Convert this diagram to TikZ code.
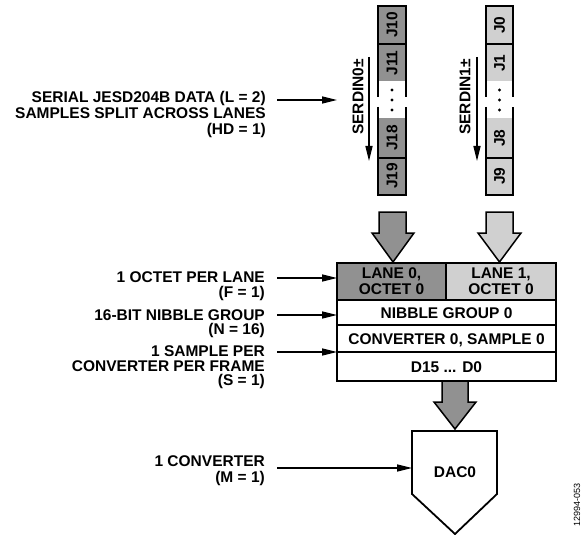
\documentclass[tikz,border=0pt]{standalone}
\usepackage{fontspec}
\setmainfont{Liberation Sans}
\usetikzlibrary{arrows.meta}
\definecolor{dk}{RGB}{145,145,145}
\definecolor{lt}{RGB}{208,208,208}
\begin{document}
\begin{tikzpicture}[x=1pt,y=-1pt,
  lbl/.style={font=\fontsize{15.5}{14.5}\selectfont\bfseries, align=right, inner sep=0, anchor=base east},
  ttl/.style={font=\fontsize{15.5}{16}\selectfont\bfseries, inner sep=0},
  arr/.style={line width=1.4pt, -{Triangle[length=15pt,width=7pt]}},
  box/.style={line width=1.8pt},
  big/.style={line width=1.5pt, line join=miter}]
\useasboundingbox (0,0) rectangle (582,535);

% ---- lane columns
\foreach \L/\R/\c in {378/406/dk, 486/513/lt}{
  \fill[\c] (\L,6) rectangle (\R,81);
  \fill[\c] (\L,118) rectangle (\R,195);
  \draw[box] (\L,97) -- (\L,6) -- (\R,6) -- (\R,97);
  \draw[box] (\L,107) -- (\L,195) -- (\R,195) -- (\R,107);
  \draw[box] (\L,44) -- (\R,44);
  \draw[box] (\L,158) -- (\R,158);
  \fill ({(\L+\R)/2},90) circle (1.7);
  \fill ({(\L+\R)/2},100) circle (1.7);
  \fill ({(\L+\R)/2},110) circle (1.7);
}
\node[ttl, rotate=90] (j10) at (392,25) {J10};
\node[ttl, rotate=90] (j11) at (392,63) {J11};
\node[ttl, rotate=90] (j18) at (392,138) {J18};
\node[ttl, rotate=90] (j19) at (392,176) {J19};
\node[ttl, rotate=90] (j0) at (499.5,25) {J0};
\node[ttl, rotate=90] (j1) at (499.5,63) {J1};
\node[ttl, rotate=90] (j8) at (499.5,138) {J8};
\node[ttl, rotate=90] (j9) at (499.5,176) {J9};

\node[ttl, rotate=90] (s0) at (358,97) {SERDIN0±};
\node[ttl, rotate=90] (s1) at (465,97) {SERDIN1±};
\coordinate (s0a) at (369,57); \coordinate (s0b) at (369,161);
\coordinate (s1a) at (477,57); \coordinate (s1b) at (477,161);
\draw[arr] (s0a) -- (s0b);
\draw[arr] (s1a) -- (s1b);

% ---- big arrows
\draw[big, fill=dk] (379,212) -- (406,212) -- (406,233) -- (414,233) -- (393,262) -- (372,233) -- (379,233) -- cycle;
\draw[big, fill=lt] (486,212) -- (513,212) -- (513,233) -- (521,233) -- (499.5,262) -- (478,233) -- (486,233) -- cycle;
\draw[big, fill=dk] (442,381) -- (468,381) -- (468,402) -- (476,402) -- (455,429) -- (434,402) -- (442,402) -- cycle;

% ---- table
\fill[dk] (337,263) rectangle (446,300);
\fill[lt] (446,263) rectangle (556,300);
\draw[box] (337,263) rectangle (556,381);
\draw[box] (337,300) -- (556,300);
\draw[box] (337,325) -- (556,325);
\draw[box] (337,352) -- (556,352);
\draw[box] (446,263) -- (446,300);
\node[ttl, align=center, anchor=base] (l0) at (391.5,294.5) {LANE 0,\\OCTET 0};
\node[ttl, align=center, anchor=base] (l1) at (501,294.5) {LANE 1,\\OCTET 0};
\node[ttl, anchor=base] (ng) at (446.5,318.5) {NIBBLE GROUP 0};
\node[ttl, anchor=base] (cs) at (446.5,344.5) {CONVERTER 0, SAMPLE 0};
\node[ttl, anchor=base] (dd) at (446.5,372) {D15 ... D0};
\coordinate (t1) at (337,278);
\coordinate (t2) at (337,315);
\coordinate (t3) at (337,352);

% ---- DAC
\draw[box, fill=white, line join=miter] (412,431) -- (497,431) -- (497,494) -- (455,534) -- (412,494) -- cycle;
\node[ttl, anchor=base] (dac) at (455,477.5) {DAC0};
\coordinate (dacin) at (412,468);

% ---- left labels (base = last line)
\node[lbl, font=\fontsize{15.5}{16}\selectfont\bfseries] (lab1) at (266,134.5) {SERIAL JESD204B DATA (L = 2)\\SAMPLES SPLIT ACROSS LANES\\(HD = 1)};
\node[lbl, font=\fontsize{15.5}{15}\selectfont\bfseries] (lab2) at (265,297.5) {1 OCTET PER LANE\\(F = 1)};
\node[lbl] (lab3) at (265,334.5) {16-BIT NIBBLE GROUP\\(N = 16)};
\node[lbl] (lab4) at (265,385.5) {1 SAMPLE PER\\CONVERTER PER FRAME\\(S = 1)};
\node[lbl, font=\fontsize{15.5}{16}\selectfont\bfseries] (lab5) at (265,482.5) {1 CONVERTER\\(M = 1)};

\coordinate (a1) at (277,100); \coordinate (a1e) at (337,100);
\coordinate (a2) at (277,278);
\coordinate (a3) at (277,315);
\coordinate (a4) at (277,352);
\coordinate (a5) at (277,468);
\draw[arr] (a1) -- (a1e);
\draw[arr] (a2) -- (t1);
\draw[arr] (a3) -- (t2);
\draw[arr] (a4) -- (t3);
\draw[arr] (a5) -- (dacin);

\node[font=\fontsize{9}{9}\selectfont, rotate=90, inner sep=0] (fig) at (577,505) {12994-053};
\end{tikzpicture}
\end{document}
